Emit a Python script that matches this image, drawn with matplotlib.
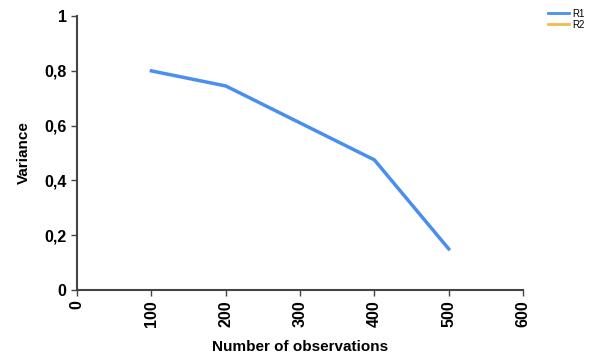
import matplotlib
matplotlib.use('Agg')
import matplotlib.pyplot as plt
from matplotlib.ticker import FuncFormatter

# datos
obs = [100, 200, 300, 400, 500]
r1 = [0.80, 0.745, 0.61, 0.475, 0.15]
r2 = []
r2_obs = []

plt.rcParams['font.family'] = ['Liberation Sans', 'DejaVu Sans']

fig = plt.figure(figsize=(5.93, 3.58), dpi=100)
ax = fig.add_axes([0.130, 0.190, 0.752, 0.765])

ax.plot(obs, r1, color='#4a8ef0', lw=2.5, label='R1')
ax.plot(r2_obs, r2, color='#f9b94a', lw=1.5, label='R2')

ax.set_xlim(0, 600)
ax.set_ylim(0, 1)
ax.set_xticks([0, 100, 200, 300, 400, 500, 600])
ax.set_yticks([0, 0.2, 0.4, 0.6, 0.8, 1])
ax.yaxis.set_major_formatter(FuncFormatter(lambda v, p: ('%g' % v).replace('.', ',')))

for s in ['top', 'right']:
    ax.spines[s].set_visible(False)
for s in ['left', 'bottom']:
    ax.spines[s].set_color('#444444')
    ax.spines[s].set_linewidth(1.5)
ax.tick_params(colors='#444444', width=1, length=4, labelcolor='black', labelsize=11.5)
for t in ax.get_xticklabels() + ax.get_yticklabels():
    t.set_fontweight('bold')
for t in ax.get_xticklabels():
    t.set_rotation(90)

ax.set_xlabel('Number of observations', fontsize=11, fontweight='bold', labelpad=9)
ax.set_ylabel('Variance', fontsize=11, fontweight='bold', labelpad=10)

leg = fig.legend(loc='upper right', bbox_to_anchor=(1.0, 1.0), frameon=False, fontsize=7,
                 handlelength=2.2, handletextpad=0.3, labelspacing=0.1, borderaxespad=0.5)
for h in leg.legend_handles:
    h.set_linewidth(2)

fig.savefig('out.png', dpi=100)
